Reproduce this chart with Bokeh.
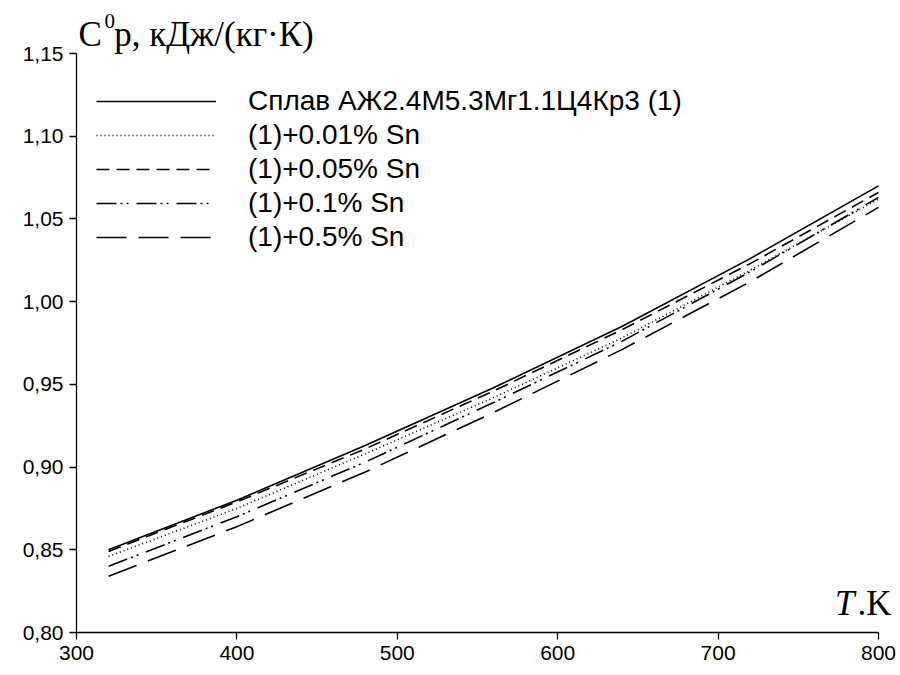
from bokeh.plotting import figure
from bokeh.models import (Legend, LegendItem, Label, FixedTicker, LinearAxis,
                          CustomJSTickFormatter, Range1d)
from bokeh.embed import file_html
from bokeh.resources import INLINE

# Temperature, K
T = [320, 400, 480, 560, 640, 720, 800]

# Specific heat capacity, kJ/(kg·K)
cp_base = [0.850, 0.880, 0.913, 0.948, 0.985, 1.026, 1.070]
cp_sn001 = [0.846, 0.875, 0.908, 0.942, 0.978, 1.019, 1.062]
cp_sn005 = [0.849, 0.879, 0.911, 0.946, 0.983, 1.023, 1.066]
cp_sn01 = [0.840, 0.870, 0.903, 0.939, 0.976, 1.018, 1.063]
cp_sn05 = [0.834, 0.864, 0.897, 0.933, 0.971, 1.012, 1.057]

series_labels = [
    "Сплав АЖ2.4М5.3Мг1.1Ц4Кр3 (1)",
    "(1)+0.01% Sn",
    "(1)+0.05% Sn",
    "(1)+0.1% Sn",
    "(1)+0.5% Sn",
]

x_ticks = [300, 400, 500, 600, 700, 800]
y_ticks = [0.80, 0.85, 0.90, 0.95, 1.00, 1.05, 1.10, 1.15]
x_lo, x_hi = 300, 800
y_lo, y_hi = 0.80, 1.15

SANS = "Liberation Sans"
SERIF = "Liberation Serif"

# The frame fills the whole canvas; the axes sit at fixed data positions,
# so the titles around them are drawn without being clipped.
p = figure(width=900, height=675, output_backend="svg", toolbar_location=None,
           x_range=Range1d(252.62, 813.72), y_range=Range1d(0.77401, 1.18204),
           x_axis_location=None, y_axis_location=None, title=None,
           min_border=0)
p.outline_line_color = None
p.background_fill_color = "white"
p.border_fill_color = "white"
p.grid.visible = False

xax = LinearAxis(fixed_location=y_lo, bounds=(x_lo, x_hi),
                 ticker=FixedTicker(ticks=x_ticks))
yax = LinearAxis(fixed_location=x_lo, bounds=(y_lo, y_hi),
                 ticker=FixedTicker(ticks=y_ticks),
                 formatter=CustomJSTickFormatter(
                     code="return tick.toFixed(2).replace('.', ',');"))
for ax in (xax, yax):
    ax.axis_line_color = "black"
    ax.axis_line_width = 1.3
    ax.major_tick_line_color = "black"
    ax.major_tick_line_width = 1.3
    ax.major_tick_in = 0
    ax.major_tick_out = 7
    ax.minor_tick_line_color = None
    ax.major_label_text_font = SANS
    ax.major_label_text_font_size = "21px"
    ax.major_label_text_color = "black"
    ax.major_label_standoff = 6
p.add_layout(xax, "below")
p.add_layout(yax, "left")

styles = [
    dict(line_dash="solid"),
    dict(line_dash="1 3"),
    dict(line_dash="13 7"),
    dict(line_dash="20 4 2 4 2 8"),
    dict(line_dash="30 12"),
]
all_series = [cp_base, cp_sn001, cp_sn005, cp_sn01, cp_sn05]

items = []
for vals, st, lab in zip(all_series, styles, series_labels):
    r = p.line(T, vals, line_color="black", line_width=1.6, **st)
    items.append(LegendItem(label=lab, renderers=[r]))

legend = Legend(items=items, location=(96, 422),
                glyph_width=120, glyph_height=30, label_height=30,
                label_standoff=32, spacing=2, padding=0, margin=0,
                label_text_font=SANS, label_text_font_size="28px",
                label_text_color="black",
                background_fill_alpha=0, border_line_alpha=0)
p.add_layout(legend)

# Axis titles
p.add_layout(Label(x=301.2, y=1.1615, text="C", text_font=SERIF,
                   text_font_size="35px", text_color="black",
                   text_baseline="alphabetic"))
p.add_layout(Label(x=317.5, y=1.1695, text="0", text_font=SERIF,
                   text_font_size="21px", text_color="black",
                   text_baseline="alphabetic"))
p.add_layout(Label(x=323.5, y=1.1615, text="p, кДж/(кг·К)", text_font=SERIF,
                   text_font_size="35px", text_color="black",
                   text_baseline="alphabetic"))

p.add_layout(Label(x=772.9, y=0.8178, text="T", text_font=SERIF,
                   text_font_size="35px", text_font_style="italic",
                   text_color="black", text_baseline="alphabetic"))
p.add_layout(Label(x=786.9, y=0.8178, text=".K", text_font=SERIF,
                   text_font_size="35px", text_color="black",
                   text_baseline="alphabetic"))

open("out.html", "w").write(file_html(p, INLINE))
